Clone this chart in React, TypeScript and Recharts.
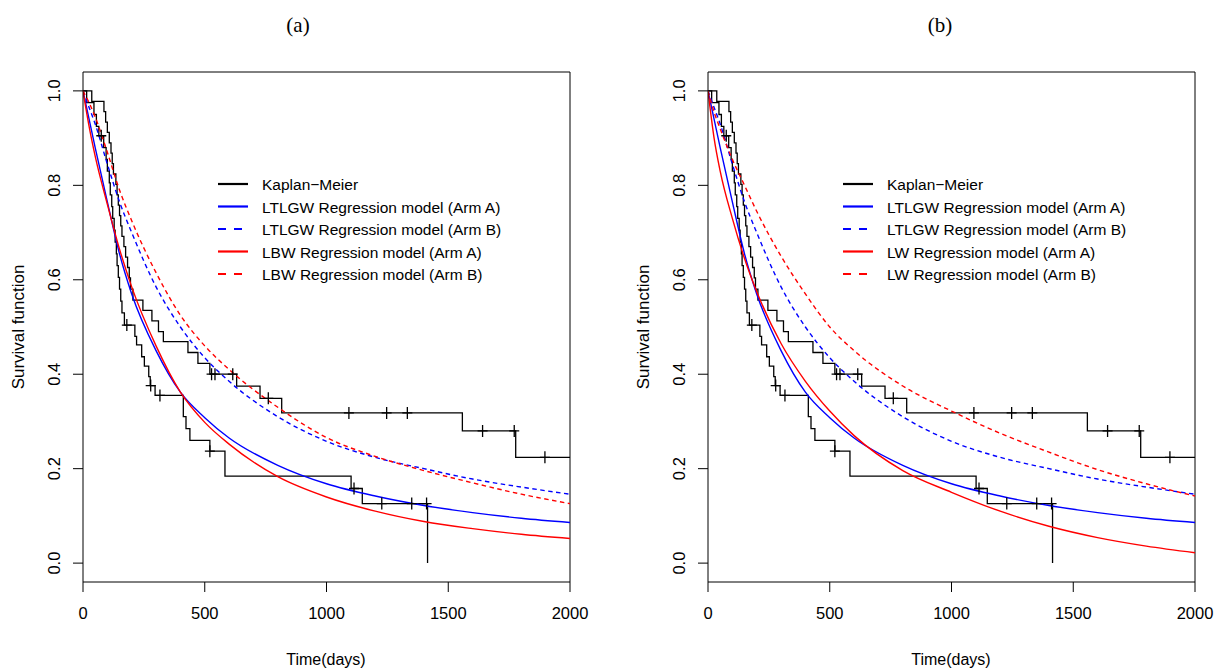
import React from 'react';
import { ComposedChart, Line, Scatter, XAxis, YAxis, ReferenceLine } from 'recharts';

const TIME_TICKS = [0, 500, 1000, 1500, 2000];
const SURV_TICKS = [0, 0.2, 0.4, 0.6, 0.8, 1.0];

// Kaplan-Meier, upper arm (step times and survival after each step)
const kmHighTimes = [0, 36, 86, 93, 100, 108, 115, 120, 125, 135, 140, 145, 150, 155, 160, 168, 175, 183, 190, 195, 205, 246, 283, 310, 330, 431, 472, 521, 631, 727, 816, 1558, 1777, 2000];
const kmHighSurv = [1.0, 0.978, 0.956, 0.934, 0.912, 0.89, 0.868, 0.846, 0.824, 0.802, 0.78, 0.758, 0.736, 0.714, 0.692, 0.67, 0.648, 0.626, 0.604, 0.58, 0.557, 0.535, 0.513, 0.49, 0.469, 0.446, 0.423, 0.4, 0.375, 0.349, 0.318, 0.28, 0.224, 0.224];
const kmHighCensorTimes = [528, 542, 615, 761, 1092, 1247, 1332, 1641, 1771, 1897];
const kmHighCensorSurv = [0.4, 0.4, 0.4, 0.349, 0.318, 0.318, 0.318, 0.28, 0.28, 0.224];

// Kaplan-Meier, lower arm
const kmLowTimes = [0, 15, 45, 55, 65, 85, 95, 100, 108, 112, 118, 122, 128, 132, 137, 140, 145, 150, 155, 160, 170, 213, 220, 241, 252, 270, 276, 296, 412, 423, 439, 521, 583, 1101, 1147, 1415];
const kmLowSurv = [1.0, 0.975, 0.95, 0.925, 0.905, 0.88, 0.855, 0.83, 0.805, 0.78, 0.755, 0.73, 0.705, 0.68, 0.655, 0.63, 0.605, 0.58, 0.555, 0.53, 0.504, 0.48, 0.462, 0.437, 0.417, 0.395, 0.376, 0.355, 0.31, 0.285, 0.26, 0.237, 0.184, 0.158, 0.126, 0.0];
const kmLowCensorTimes = [75, 180, 278, 316, 521, 1113, 1227, 1350, 1411];
const kmLowCensorSurv = [0.905, 0.504, 0.376, 0.355, 0.237, 0.158, 0.126, 0.126, 0.126];

// fitted regression models, read at these times
const modelTimes = [0, 25, 50, 100, 150, 200, 300, 400, 500, 600, 800, 1000, 1200, 1400, 1600, 1800, 2000];
const ltlgwArmA = [1.0, 0.94, 0.88, 0.765, 0.655, 0.57, 0.45, 0.362, 0.308, 0.265, 0.207, 0.168, 0.142, 0.122, 0.107, 0.095, 0.086];
const ltlgwArmB = [1.0, 0.965, 0.93, 0.845, 0.765, 0.7, 0.585, 0.5, 0.435, 0.385, 0.31, 0.258, 0.224, 0.2, 0.178, 0.161, 0.146];
const lbwArmA = [1.0, 0.925, 0.862, 0.76, 0.665, 0.585, 0.46, 0.362, 0.298, 0.252, 0.183, 0.14, 0.11, 0.088, 0.073, 0.061, 0.052];
const lbwArmB = [1.0, 0.975, 0.945, 0.87, 0.79, 0.725, 0.615, 0.525, 0.46, 0.41, 0.33, 0.266, 0.226, 0.196, 0.17, 0.146, 0.126];
const lwArmA = [1.0, 0.9, 0.83, 0.73, 0.645, 0.575, 0.465, 0.385, 0.322, 0.27, 0.196, 0.15, 0.11, 0.078, 0.054, 0.036, 0.022];
const lwArmB = [1.0, 0.955, 0.92, 0.855, 0.8, 0.745, 0.65, 0.57, 0.5, 0.45, 0.375, 0.322, 0.275, 0.235, 0.198, 0.168, 0.142];

const FONT = '"Liberation Sans", Arial, Helvetica, sans-serif';

const toPoints = (times: number[], vals: number[]) => times.map((t, i) => ({ t, s: vals[i] }));

const PlusMark = (props: any) => {
    const { cx, cy } = props;
    return (
        <path d={`M${cx - 5},${cy}H${cx + 5}M${cx},${cy - 6}V${cy + 6}`} stroke="#000" strokeWidth={1.3} fill="none" />
    );
};

const XTick = (props: any) => {
    const { x, y, payload } = props;
    return (
        <text x={x} y={y + 25} textAnchor="middle" fontFamily={FONT} fontSize={16.5} fill="#000">
            {payload.value}
        </text>
    );
};

const YTick = (props: any) => {
    const { y, payload } = props;
    return (
        <text transform={`translate(60,${y}) rotate(-90)`} textAnchor="middle" fontFamily={FONT} fontSize={16.5} fill="#000">
            {payload.value.toFixed(1)}
        </text>
    );
};

interface PanelProps {
    left: number;
    title: string;
    titleX: number;
    modelName: string;
    redA: number[];
    redB: number[];
}

const W = 607;
const H = 670;

function Panel({ left, title, titleX, modelName, redA, redB }: PanelProps) {
    const legendItems = [
        { label: 'Kaplan\u2212Meier', color: '#000', dash: undefined },
        { label: 'LTLGW Regression model (Arm A)', color: '#0000ff', dash: undefined },
        { label: 'LTLGW Regression model (Arm B)', color: '#0000ff', dash: '8 8' },
        { label: `${modelName} Regression model (Arm A)`, color: '#ff0000', dash: undefined },
        { label: `${modelName} Regression model (Arm B)`, color: '#ff0000', dash: '8 8' },
    ];

    return (
        <div style={{ position: 'absolute', left, top: 0, width: W, height: H }}>
            <ComposedChart width={W} height={H} margin={{ top: 72, right: 37, bottom: 48, left: 43 }}>
                <XAxis
                    type="number"
                    dataKey="t"
                    domain={[0, 2000]}
                    ticks={TIME_TICKS}
                    allowDataOverflow
                    height={40}
                    tickSize={10}
                    stroke="#000"
                    tick={<XTick />}
                />
                <YAxis
                    type="number"
                    dataKey="s"
                    domain={[-0.04, 1.04]}
                    ticks={SURV_TICKS}
                    allowDataOverflow
                    width={40}
                    tickSize={10}
                    stroke="#000"
                    tick={<YTick />}
                />
                <ReferenceLine x={2000} stroke="#000" strokeWidth={1} />
                <ReferenceLine y={1.04} stroke="#000" strokeWidth={1} />

                <Line data={toPoints(kmHighTimes, kmHighSurv)} dataKey="s" type="stepAfter" stroke="#000" strokeWidth={1.3} dot={false} isAnimationActive={false} />
                <Line data={toPoints(kmLowTimes, kmLowSurv)} dataKey="s" type="stepAfter" stroke="#000" strokeWidth={1.3} dot={false} isAnimationActive={false} />
                <Scatter data={toPoints(kmHighCensorTimes, kmHighCensorSurv)} dataKey="s" shape={<PlusMark />} isAnimationActive={false} />
                <Scatter data={toPoints(kmLowCensorTimes, kmLowCensorSurv)} dataKey="s" shape={<PlusMark />} isAnimationActive={false} />

                <Line data={toPoints(modelTimes, ltlgwArmA)} dataKey="s" type="monotone" stroke="#0000ff" strokeWidth={1.4} dot={false} isAnimationActive={false} />
                <Line data={toPoints(modelTimes, ltlgwArmB)} dataKey="s" type="monotone" stroke="#0000ff" strokeWidth={1.4} strokeDasharray="4.5 3.5" dot={false} isAnimationActive={false} />
                <Line data={toPoints(modelTimes, redA)} dataKey="s" type="monotone" stroke="#ff0000" strokeWidth={1.4} dot={false} isAnimationActive={false} />
                <Line data={toPoints(modelTimes, redB)} dataKey="s" type="monotone" stroke="#ff0000" strokeWidth={1.4} strokeDasharray="4.5 3.5" dot={false} isAnimationActive={false} />
            </ComposedChart>

            <svg width={W} height={H} style={{ position: 'absolute', left: 0, top: 0, pointerEvents: 'none' }}>
                <text x={titleX} y={32} textAnchor="middle" fontFamily='"Liberation Serif", "Times New Roman", serif' fontSize={21} fill="#000">
                    {title}
                </text>
                <text transform="translate(24,327) rotate(-90)" textAnchor="middle" fontFamily={FONT} fontSize={17} fill="#000">
                    Survival function
                </text>
                <text x={326} y={665} textAnchor="middle" fontFamily={FONT} fontSize={16} fill="#000">
                    Time(days)
                </text>
                {legendItems.map((item, i) => {
                    const y = 184 + i * 22.5;
                    return (
                        <g key={item.label}>
                            <line x1={218} x2={248} y1={y} y2={y} stroke={item.color} strokeWidth={2.2} strokeDasharray={item.dash} />
                            <text x={262} y={y + 6} fontFamily={FONT} fontSize={15.5} fill="#000">
                                {item.label}
                            </text>
                        </g>
                    );
                })}
            </svg>
        </div>
    );
}

export default function App() {
    return (
        <div style={{ position: 'absolute', left: 0, top: 0, width: 1214, height: 670, background: '#fff' }}>
            <Panel left={0} title="(a)" titleX={298} modelName="LBW" redA={lbwArmA} redB={lbwArmB} />
            <Panel left={625} title="(b)" titleX={315} modelName="LW" redA={lwArmA} redB={lwArmB} />
        </div>
    );
}
